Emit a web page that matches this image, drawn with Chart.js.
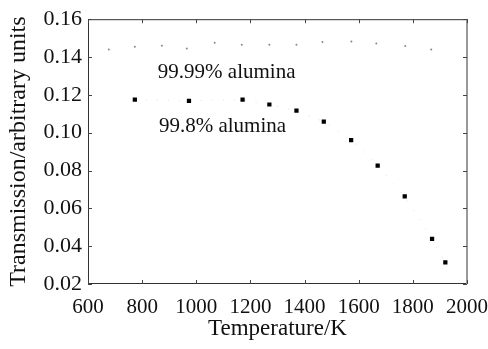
<!DOCTYPE html>
<html>
<head>
<meta charset="utf-8">
<script src="https://cdn.jsdelivr.net/npm/chart.js@4.4.0/dist/chart.umd.min.js"></script>
<style>
  html, body { margin: 0; padding: 0; background: #fff; }
  #wrap { width: 488px; height: 349px; }
</style>
</head>
<body>
<div id="wrap"><canvas id="chart" width="488" height="349"></canvas></div>
<script>
// 99.99% alumina (faint dots)
var tempHigh = [677, 773, 873, 965, 1068, 1168, 1270, 1370, 1466, 1573, 1665, 1772, 1868];
var transHigh = [0.1440, 0.1455, 0.1460, 0.1445, 0.1475, 0.1465, 0.1465, 0.1465, 0.1480, 0.1482, 0.1472, 0.1458, 0.1440];

// 99.8% alumina (squares)
var tempLow = [773, 973, 1171, 1270, 1370, 1471, 1572, 1670, 1770, 1871, 1920];
var transLow = [0.1175, 0.1168, 0.1175, 0.1149, 0.1116, 0.1058, 0.0961, 0.0826, 0.0663, 0.0438, 0.0314];

var xTicks = [600, 800, 1000, 1200, 1400, 1600, 1800, 2000];
var yTicks = [0.02, 0.04, 0.06, 0.08, 0.10, 0.12, 0.14, 0.16];

var labels = [
  { text: '99.99% alumina', x: 858, y: 0.1316 },
  { text: '99.8% alumina', x: 862, y: 0.1032 }
];

var FONT = '"Liberation Serif", "DejaVu Serif", serif';

function toPoints(xs, ys) {
  return xs.map(function (x, i) { return { x: x, y: ys[i] }; });
}

// frame with inward ticks on all four sides, plus the in-plot labels
var framePlugin = {
  id: 'frame',
  afterDraw: function (chart) {
    var ctx = chart.ctx;
    var a = chart.chartArea;
    var xs = chart.scales.x, ys = chart.scales.y;
    ctx.save();
    ctx.lineWidth = 1;
    ctx.strokeStyle = '#333';
    ctx.beginPath();
    ctx.moveTo(a.right, a.top + 0.5);
    ctx.lineTo(a.left + 0.5, a.top + 0.5);
    ctx.lineTo(a.left + 0.5, a.bottom - 0.5);
    ctx.lineTo(a.right, a.bottom - 0.5);
    ctx.stroke();
    ctx.strokeStyle = '#999';
    ctx.lineWidth = 2;
    ctx.beginPath();
    ctx.moveTo(a.right, a.top);
    ctx.lineTo(a.right, a.bottom);
    ctx.stroke();

    ctx.lineWidth = 1;
    ctx.strokeStyle = '#444';
    ctx.beginPath();
    xTicks.forEach(function (t) {
      var px = Math.round(xs.getPixelForValue(t)) + 0.5;
      ctx.moveTo(px, a.bottom);
      ctx.lineTo(px, a.bottom - 4);
      ctx.moveTo(px, a.top);
      ctx.lineTo(px, a.top + 4);
    });
    yTicks.forEach(function (t) {
      var py = Math.round(ys.getPixelForValue(t)) + 0.5;
      ctx.moveTo(a.left, py);
      ctx.lineTo(a.left + 4, py);
      ctx.moveTo(a.right, py);
      ctx.lineTo(a.right - 4, py);
    });
    ctx.stroke();

    ctx.fillStyle = '#111';
    ctx.font = '21px ' + FONT;
    ctx.textAlign = 'left';
    ctx.textBaseline = 'middle';
    labels.forEach(function (l) {
      ctx.fillText(l.text, xs.getPixelForValue(l.x), ys.getPixelForValue(l.y));
    });
    ctx.restore();
  }
};

new Chart(document.getElementById('chart').getContext('2d'), {
  type: 'scatter',
  data: {
    datasets: [
      {
        label: '99.99% alumina',
        data: toPoints(tempHigh, transHigh),
        pointStyle: 'circle',
        pointRadius: 1,
        backgroundColor: '#888',
        borderWidth: 0
      },
      {
        label: '99.8% alumina',
        data: toPoints(tempLow, transLow),
        showLine: true,
        borderColor: '#dddddd',
        borderWidth: 1,
        borderDash: [1, 10],
        pointStyle: 'rect',
        pointRadius: 3,
        pointBackgroundColor: '#000',
        pointBorderWidth: 0
      }
    ]
  },
  options: {
    responsive: false,
    animation: false,
    layout: { padding: { left: 0, top: 18, right: 0, bottom: 0 } },
    plugins: { legend: { display: false }, tooltip: { enabled: false } },
    scales: {
      x: {
        type: 'linear',
        min: 600, max: 2000,
        afterBuildTicks: function (s) { s.ticks = xTicks.map(function (v) { return { value: v }; }); },
        afterFit: function (s) { s.height = 65; s.paddingRight = 21; s.paddingLeft = 0; },
        grid: { display: false, drawTicks: false },
        border: { display: false },
        ticks: {
          color: '#111', font: { family: FONT, size: 21 }, padding: 11, maxRotation: 0, autoSkip: false,
          callback: function (v) { return String(v); }
        },
        title: { display: true, text: 'Temperature/K', color: '#111', font: { family: FONT, size: 23 }, padding: { top: 0, bottom: 6 } }
      },
      y: {
        min: 0.02, max: 0.16,
        afterBuildTicks: function (s) { s.ticks = yTicks.map(function (v) { return { value: v }; }); },
        afterFit: function (s) { s.width = 88; },
        grid: { display: false, drawTicks: false },
        border: { display: false },
        ticks: {
          color: '#111', font: { family: FONT, size: 22 }, padding: 6, autoSkip: false,
          callback: function (v) { return v.toFixed(2); }
        },
        title: { display: true, text: 'Transmission/arbitrary units', color: '#111', font: { family: FONT, size: 24 }, padding: { top: 4, bottom: 0 } }
      }
    }
  },
  plugins: [framePlugin]
});
</script>
</body>
</html>
